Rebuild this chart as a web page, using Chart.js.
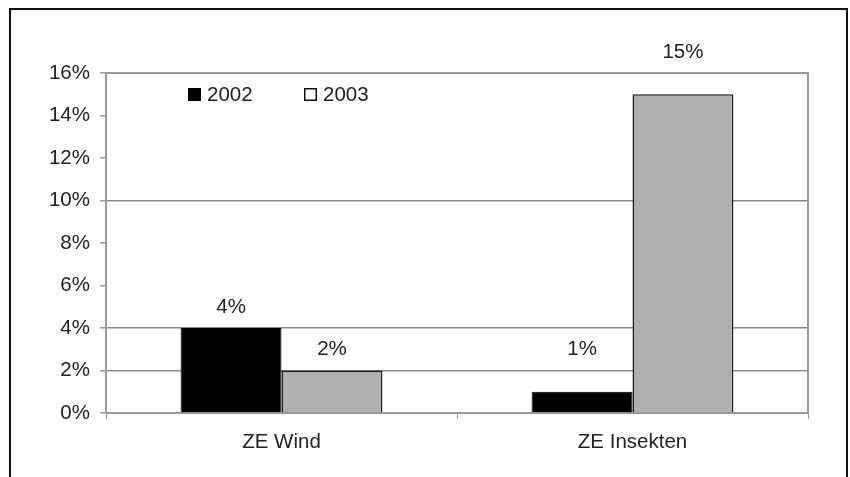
<!DOCTYPE html>
<html>
<head>
<meta charset="utf-8">
<script src="https://cdn.jsdelivr.net/npm/chart.js@4"></script>
<style>
  html, body { margin: 0; padding: 0; background: #fff; }
  #wrap { width: 850px; height: 477px; }
</style>
</head>
<body>
<div id="wrap"><canvas id="myChart" width="850" height="477"></canvas></div>
<script>
  const labels = ['ZE Wind', 'ZE Insekten'];
  const years = ['2002', '2003'];
  const values2002 = [4, 1];
  const values2003 = [2, 15];
  const yTicks = [0, 2, 4, 6, 8, 10, 12, 14, 16];
  const shownGrid = [2, 4, 10, 16];

  const FONT = "'Liberation Sans', Arial, sans-serif";
  const TEXT = '#222';

  // outer frame + plot border
  const framePlugin = {
    id: 'frame',
    beforeDraw(chart) {
      const c = chart.ctx;
      c.save();
      c.fillStyle = '#fff';
      c.fillRect(0, 0, chart.width, chart.height);
      c.strokeStyle = '#111';
      c.lineWidth = 2;
      c.strokeRect(10, 9, 837, 500);
      c.restore();
    },
    beforeDatasetsDraw(chart) {
      const a = chart.chartArea, c = chart.ctx;
      c.save();
      c.strokeStyle = '#999';
      c.lineWidth = 2;
      c.strokeRect(a.left, a.top, a.right - a.left, a.bottom - a.top);
      c.restore();
    }
  };

  // value labels above the bars
  const labelLift = [21, 42];
  const valuePlugin = {
    id: 'values',
    afterDatasetsDraw(chart) {
      const c = chart.ctx;
      c.save();
      c.font = '20.5px ' + FONT;
      c.fillStyle = TEXT;
      c.textAlign = 'center';
      c.textBaseline = 'middle';
      chart.data.datasets.forEach((ds, i) => {
        chart.getDatasetMeta(i).data.forEach((bar, j) => {
          c.fillText(ds.data[j] + '%', bar.x, bar.y - labelLift[j]);
        });
      });
      c.restore();
    }
  };

  // legend inside the plot, 2003 shown as hollow box
  const legendPlugin = {
    id: 'innerLegend',
    afterDraw(chart) {
      const c = chart.ctx;
      const spots = [188, 304];
      c.save();
      c.font = '20.5px ' + FONT;
      c.textBaseline = 'middle';
      c.fillStyle = TEXT;
      chart.data.datasets.forEach((ds, i) => {
        const x = spots[i], y = 88;
        if (i === 0) {
          c.fillStyle = '#000';
          c.fillRect(x, y, 13, 13);
        } else {
          c.strokeStyle = '#111';
          c.lineWidth = 1.5;
          c.strokeRect(x + 0.75, y + 0.75, 11.5, 11.5);
        }
        c.fillStyle = TEXT;
        c.fillText(ds.label, x + 19, y + 7);
      });
      c.restore();
    }
  };

  const data = {
    labels: labels,
    datasets: [{
      label: years[0],
      data: values2002,
      backgroundColor: '#000',
      borderColor: '#000',
      borderWidth: 1
    }, {
      label: years[1],
      data: values2003,
      backgroundColor: '#afafaf',
      borderColor: '#1a1a1a',
      borderWidth: 1.5
    }]
  };

  const config = {
    type: 'bar',
    data: data,
    options: {
      responsive: false,
      animation: false,
      categoryPercentage: 0.575,
      barPercentage: 1,
      layout: { padding: { left: 0, top: 73, right: 42, bottom: 0 } },
      plugins: {
        legend: { display: false },
        tooltip: { enabled: false }
      },
      scales: {
        x: {
          grid: {
            offset: true,
            drawOnChartArea: false,
            drawTicks: true,
            tickLength: 6,
            color: '#999'
          },
          border: { display: false },
          ticks: { color: TEXT, font: { family: FONT, size: 20.5 }, padding: 11 },
          afterFit(scale) { scale.height = 64; }
        },
        y: {
          min: 0,
          max: 16,
          afterBuildTicks(scale) { scale.ticks = yTicks.map(v => ({ value: v })); },
          grid: {
            color: ctx => shownGrid.includes(ctx.tick.value) ? '#8a8a8a' : 'rgba(0,0,0,0)',
            lineWidth: 1.5,
            tickLength: 6,
            tickColor: '#999'
          },
          border: { display: false },
          ticks: {
            color: TEXT,
            font: { family: FONT, size: 20.5 },
            padding: 10,
            callback: v => v + '%'
          },
          afterFit(scale) { scale.width = 106; }
        }
      }
    },
    plugins: [framePlugin, valuePlugin, legendPlugin]
  };

  const myChart = new Chart(document.getElementById('myChart'), config);
</script>
</body>
</html>
